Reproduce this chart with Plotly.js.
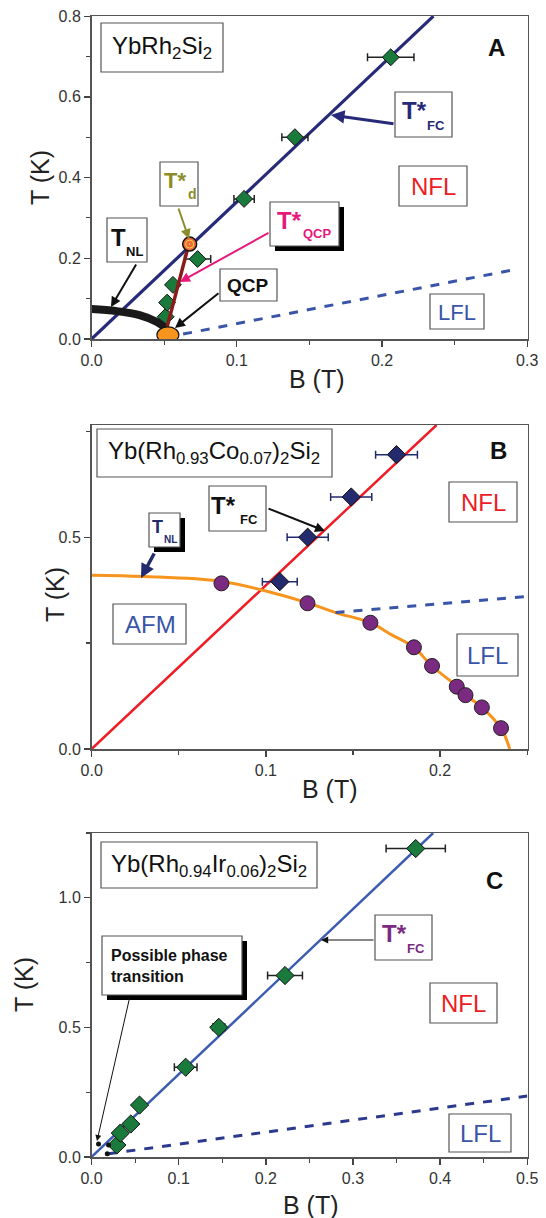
<!DOCTYPE html>
<html><head><meta charset="utf-8">
<script src="https://cdn.plot.ly/plotly-3.0.1.min.js"></script>
<style>html,body{margin:0;padding:0;background:#fff}#chart{width:546px;height:1218px}</style>
</head><body><div id="chart"></div>
<script>
// ---------- Panel A : YbRh2Si2 ----------
const aFcB   = [0.051, 0.052, 0.056, 0.073, 0.105, 0.140, 0.206];
const aFcT   = [0.055, 0.090, 0.134, 0.198, 0.347, 0.500, 0.698];
const aFcErr = [0, 0, 0, 0.009, 0.007, 0.009, 0.016];
const aFitB  = [0, 0.2354];
const aFitT  = [0, 0.8];
const aLflB  = [0.063, 0.293];
const aLflT  = [0.012, 0.173];
const aNlB   = [0, 0.017, 0.033, 0.045, 0.051];
const aNlT   = [0.074, 0.069, 0.059, 0.042, 0.027];
const aQlB   = [0.052, 0.066];
const aQlT   = [0.030, 0.222];
const aTdB   = [0.0675];
const aTdT   = [0.235];
const aQcpB  = 0.0525;
const aQcpT  = 0.010;
// ---------- Panel B : Yb(Rh0.93Co0.07)2Si2 ----------
const bFcB   = [0.108, 0.124, 0.149, 0.175];
const bFcT   = [0.395, 0.500, 0.595, 0.695];
const bFcErr = [0.010, 0.0118, 0.0118, 0.012];
const bFitB  = [0, 0.198];
const bFitT  = [0, 0.765];
const bNlB   = [0.0745, 0.1239, 0.160, 0.185, 0.1954, 0.2096, 0.2146, 0.224, 0.235];
const bNlT   = [0.391, 0.344, 0.298, 0.240, 0.196, 0.147, 0.127, 0.098, 0.049];
const bCurB  = [0, 0.03, 0.074, 0.10, 0.124, 0.14, 0.16, 0.172, 0.185, 0.195, 0.21, 0.215, 0.224, 0.235, 0.240];
const bCurT  = [0.41, 0.407, 0.396, 0.373, 0.345, 0.322, 0.298, 0.27, 0.24, 0.197, 0.147, 0.127, 0.098, 0.049, 0.0];
const bLflB  = [0.14, 0.25];
const bLflT  = [0.322, 0.36];
// ---------- Panel C : Yb(Rh0.94Ir0.06)2Si2 ----------
const cFcB   = [0.029, 0.033, 0.045, 0.055, 0.108, 0.146, 0.222, 0.372];
const cFcT   = [0.046, 0.092, 0.127, 0.200, 0.346, 0.500, 0.700, 1.190];
const cFcErr = [0, 0, 0, 0, 0.013, 0.007, 0.020, 0.034];
const cFitB  = [0, 0.392];
const cFitT  = [0, 1.25];
const cLflB  = [0.0195, 0.5];
const cLflT  = [0.012, 0.235];
const cDotB  = [-0.002, 0.008, 0.0195, 0.018];
const cDotT  = [0.058, 0.050, 0.046, 0.012];

const W = 546, H = 1218;
const FONT = 'Arial, "Liberation Sans", sans-serif';
const px = x => x / W, py = y => 1 - y / H;

const traces = [
  // A
  {x:aFitB, y:aFitT, xaxis:'x', yaxis:'y', mode:'lines', line:{color:'#262a78', width:3.2}},
  {x:aLflB, y:aLflT, xaxis:'x', yaxis:'y', mode:'lines', line:{color:'#3a55a8', width:3, dash:'dash'}},
  {x:aFcB, y:aFcT, xaxis:'x', yaxis:'y', mode:'markers',
   marker:{symbol:'diamond', size:13, color:'#1a7a3c', line:{color:'#111', width:1}},
   error_x:{type:'data', array:aFcErr, visible:true, color:'#222', thickness:1.5, width:4}},
  {x:aNlB, y:aNlT, xaxis:'x', yaxis:'y', mode:'lines', line:{color:'#1a1a1a', width:8, shape:'spline'}},
  {x:aQlB, y:aQlT, xaxis:'x', yaxis:'y', mode:'lines', line:{color:'#8b1a1a', width:3.5}},
  {x:aTdB, y:aTdT, xaxis:'x', yaxis:'y', mode:'markers',
   marker:{symbol:'circle', size:14, color:'#ef6a3a', line:{color:'#111', width:1.5}}},
  {x:aTdB, y:aTdT, xaxis:'x', yaxis:'y', mode:'markers',
   marker:{symbol:'circle-open-dot', size:8, color:'#f7d046', line:{color:'#f7d046', width:1}}},
  // B
  {x:bFitB, y:bFitT, xaxis:'x2', yaxis:'y2', mode:'lines', line:{color:'#ee1c24', width:2.5}},
  {x:bCurB, y:bCurT, xaxis:'x2', yaxis:'y2', mode:'lines', line:{color:'#f7941d', width:3, shape:'spline'}},
  {x:bLflB, y:bLflT, xaxis:'x2', yaxis:'y2', mode:'lines', line:{color:'#3a55a8', width:3, dash:'dash'}},
  {x:bFcB, y:bFcT, xaxis:'x2', yaxis:'y2', mode:'markers',
   marker:{symbol:'diamond', size:14, color:'#232a6e', line:{color:'#111', width:1}},
   error_x:{type:'data', array:bFcErr, visible:true, color:'#232a6e', thickness:1.5, width:4}},
  {x:bNlB, y:bNlT, xaxis:'x2', yaxis:'y2', mode:'markers',
   marker:{symbol:'circle', size:15, color:'#7b2a82', line:{color:'#222', width:1}}},
  // C
  {x:cFitB, y:cFitT, xaxis:'x3', yaxis:'y3', mode:'lines', line:{color:'#3b5cb0', width:2.5}},
  {x:cLflB, y:cLflT, xaxis:'x3', yaxis:'y3', mode:'lines', line:{color:'#2b3a8f', width:3, dash:'dash'}},
  {x:cFcB, y:cFcT, xaxis:'x3', yaxis:'y3', mode:'markers',
   marker:{symbol:'diamond', size:14, color:'#1a7a3c', line:{color:'#111', width:1}},
   error_x:{type:'data', array:cFcErr, visible:true, color:'#222', thickness:1.5, width:4}},
  {x:cDotB, y:cDotT, xaxis:'x3', yaxis:'y3', mode:'markers', cliponaxis:false,
   marker:{symbol:'circle', size:5, color:'#111'}}
];
traces.forEach(t => { t.showlegend = false; t.hoverinfo = 'skip'; });

function xax(range, dom, anchor) {
  return {range:range, domain:dom, anchor:anchor, showgrid:false, zeroline:false,
    showline:true, linecolor:'#555', linewidth:1.5, mirror:true,
    ticks:'outside', ticklen:6, tickwidth:1.3, tickcolor:'#444', dtick:0.1, tick0:0,
    tickformat:'.1f', tickfont:{family:FONT, size:16, color:'#333'},
    minor:{dtick:0.05, tick0:0, ticks:'outside', ticklen:4, tickwidth:1.2, tickcolor:'#444'}};
}
function yax(range, dom, anchor, dt, mdt) {
  return {range:range, domain:dom, anchor:anchor, showgrid:false, zeroline:false,
    showline:true, linecolor:'#555', linewidth:1.5, mirror:true,
    ticks:'outside', ticklen:6, tickwidth:1.3, tickcolor:'#444', dtick:dt, tick0:0,
    tickformat:'.1f', tickfont:{family:FONT, size:16, color:'#333'},
    minor:{dtick:mdt, tick0:0, ticks:'outside', ticklen:4, tickwidth:1.2, tickcolor:'#444'}};
}
const xd = [91.5/W, 527.5/W];

const shapes = [];
const ann = [];
function box(x0, y0, x1, y1, shadow) {
  if (shadow) shapes.push({type:'rect', xref:'paper', yref:'paper', layer:'above',
    x0:px(x0+5), x1:px(x1+5), y0:py(y0+5), y1:py(y1+5), fillcolor:'#000', line:{width:0}});
  shapes.push({type:'rect', xref:'paper', yref:'paper', layer:'above',
    x0:px(x0), x1:px(x1), y0:py(y0), y1:py(y1), fillcolor:'#fff', line:{color:'#555', width:1.2}});
}
function txt(x, y, text, size, color, bold, extra) {
  const a = {xref:'paper', yref:'paper', x:px(x), y:py(y), text:bold ? '<b>'+text+'</b>' : text,
    showarrow:false, xanchor:'center', yanchor:'middle',
    font:{family:FONT, size:size, color:color}};
  Object.assign(a, extra || {});
  ann.push(a);
}
function arrow(tx, ty, hx, hy, color, w, head, size) {
  ann.push({xref:'paper', yref:'paper', x:px(hx), y:py(hy), ax:tx-hx, ay:ty-hy,
    axref:'pixel', ayref:'pixel', text:'', showarrow:true, arrowhead:head || 2,
    arrowsize:size || 1, arrowwidth:w, arrowcolor:color, standoff:0, startstandoff:0});
}

// QCP ellipse in data coordinates
shapes.push({type:'circle', xref:'x', yref:'y', xsizemode:'pixel', ysizemode:'pixel',
  xanchor:aQcpB, yanchor:aQcpT, x0:-11, x1:11, y0:-8, y1:8, layer:'above',
  fillcolor:'#f7941d', line:{color:'#111', width:1.2}});

// ---- Panel A labels
box(101, 23, 223, 72);
txt(162, 47, 'YbRh<sub>2</sub>Si<sub>2</sub>', 24, '#111');
txt(496, 47, 'A', 24, '#111', true);
box(395, 92, 452, 137);
txt(414, 110, 'T*', 24, '#262a78', true);
txt(436, 125, 'FC', 13, '#262a78', true);
arrow(395, 124, 331, 115, '#262a78', 3, 2, 0.9);
box(399, 166, 467, 206);
txt(433, 187, 'NFL', 24, '#ee1c24');
box(430, 294, 484, 329);
txt(457, 312, 'LFL', 22, '#3a55a8');
box(160, 162, 198, 206);
txt(175, 180, 'T*', 22, '#8c8c2a', true);
txt(192, 194, 'd', 14, '#8c8c2a', true);
arrow(178, 207, 189, 239, '#8c8c2a', 2, 2, 1);
box(270, 202, 339, 246, true);
txt(289, 220, 'T*', 24, '#e6197a', true);
txt(317, 234, 'QCP', 13, '#e6197a', true);
arrow(270, 232, 180, 282, '#e6197a', 2, 2, 1);
box(107, 218, 147, 262);
txt(118, 237, 'T', 24, '#111', true);
txt(134, 251, 'NL', 13, '#111', true);
arrow(137, 263, 111, 307, '#111', 2, 2, 1);
box(220, 269, 277, 301);
txt(248, 285, 'QCP', 19, '#111', true);
arrow(220, 292, 175, 328, '#111', 2, 2, 1);

// ---- Panel B labels
box(97, 429, 332, 477);
txt(214, 453, 'Yb(Rh<sub>0.93</sub>Co<sub>0.07</sub>)<sub>2</sub>Si<sub>2</sub>', 24, '#111');
txt(498, 450, 'B', 24, '#111', true);
box(209, 486, 266, 531);
txt(223, 505, 'T*', 24, '#111', true);
txt(249, 519, 'FC', 13, '#111', true);
arrow(267, 508, 325, 531, '#111', 2, 2, 1);
box(149, 513, 180, 547, true);
txt(157, 527, 'T', 18, '#232a6e', true);
txt(170, 539, 'NL', 10, '#232a6e', true);
arrow(155, 552, 141, 578, '#232a6e', 3.5, 2, 0.8);
box(449, 482, 517, 522);
txt(483, 502, 'NFL', 24, '#ee1c24');
box(113, 604, 186, 644);
txt(150, 624, 'AFM', 24, '#3a55a8');
box(457, 634, 518, 676);
txt(487, 655, 'LFL', 24, '#3a55a8');

// ---- Panel C labels
box(101, 842, 317, 888);
txt(209, 865, 'Yb(Rh<sub>0.94</sub>Ir<sub>0.06</sub>)<sub>2</sub>Si<sub>2</sub>', 24, '#111');
txt(494, 881, 'C', 24, '#111', true);
box(375, 915, 432, 960);
txt(394, 933, 'T*', 24, '#7b2a82', true);
txt(416, 948, 'FC', 13, '#7b2a82', true);
arrow(375, 940, 321, 940, '#111', 1.2, 2, 1.2);
box(430, 983, 497, 1023);
txt(463, 1003, 'NFL', 24, '#ee1c24');
box(449, 1114, 511, 1152);
txt(480, 1133, 'LFL', 24, '#3a55a8');
box(102, 936, 242, 995, true);
txt(109, 966, 'Possible phase<br>transition', 16, '#111', true, {xanchor:'left', align:'left'});
arrow(130, 996, 97, 1141, '#111', 1, 2, 1.2);

// ---- Axis titles
txt(40, 178, 'T (K)', 25, '#222', false, {textangle:-90});
txt(317, 379, 'B (T)', 25, '#222');
txt(55, 595, 'T (K)', 25, '#222', false, {textangle:-90});
txt(330, 789, 'B (T)', 25, '#222');
txt(24, 985, 'T (K)', 25, '#222', false, {textangle:-90});
txt(311, 1205, 'B (T)', 25, '#222');

const layout = {
  width:W, height:H, margin:{l:0, r:0, t:0, b:0},
  paper_bgcolor:'#fff', plot_bgcolor:'#fff', showlegend:false,
  font:{family:FONT},
  xaxis: xax([-0.0001, 0.3002], xd, 'y'),
  yaxis: yax([-0.0002, 0.8004], [1-339/H, 1-16/H], 'x', 0.2, 0.1),
  xaxis2: xax([-0.0001, 0.2502], xd, 'y2'),
  yaxis2: yax([-0.0002, 0.765], [1-749/H, 1-425/H], 'x2', 0.5, 0.25),
  xaxis3: xax([-0.0001, 0.5003], xd, 'y3'),
  yaxis3: yax([-0.0003, 1.25], [1-1157/H, 1-833/H], 'x3', 0.5, 0.25),
  shapes:shapes, annotations:ann
};
Plotly.newPlot('chart', traces, layout, {staticPlot:true, displayModeBar:false});
</script>
</body></html>
